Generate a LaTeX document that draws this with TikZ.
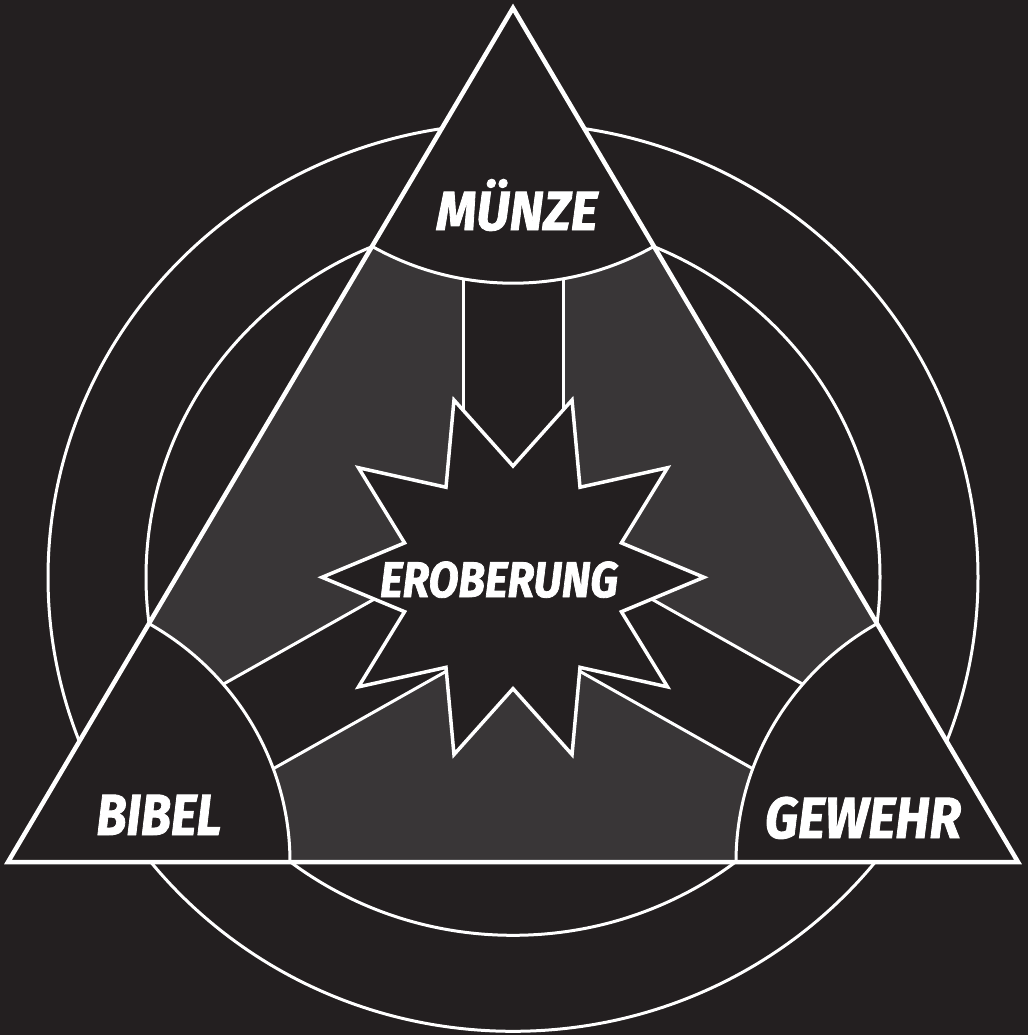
\documentclass[tikz,border=0pt]{standalone}
\usepackage{fontspec}
\setmainfont{Fira Sans}[BoldItalicFeatures={FakeBold=1.6}]
\usetikzlibrary{calc}
\definecolor{bgdark}{RGB}{35,31,32}
\definecolor{midgray}{RGB}{57,54,55}
\newcommand\fitw[2]{\resizebox{#1}{\height}{#2}}
\begin{document}
\begin{tikzpicture}[x=1pt,y=-1pt,
  wline/.style={draw=white,line width=3pt},
  darkfill/.style={fill=bgdark},
  lbl/.style={text=white,inner sep=0pt,anchor=base}]
\fill[bgdark] (0,0) rectangle (1028,1035);
\coordinate (A) at (513,8);
\coordinate (L) at (8,862);
\coordinate (R) at (1018,862);
\coordinate (O) at (513,577.3);
% outer and inner rings
\draw[wline] (O) ellipse [x radius=465pt, y radius=454pt];
\draw[wline] (O) ellipse [x radius=367pt, y radius=358pt];
% grey triangle body
\fill[midgray] (A) -- (L) -- (R) -- cycle;
% dark bands from centre to corners
\begin{scope}
  \clip (A) -- (L) -- (R) -- cycle;
  \foreach \d in {90,210,330}{
    \fill[darkfill] ($(O)+({\d+90}:50pt and 48.8pt)$) -- ++(\d:700pt and 683pt)
      -- ($(O)+({\d-90}:50pt and 48.8pt)+(\d:700pt and 683pt)$)
      -- ($(O)+({\d-90}:50pt and 48.8pt)$) -- cycle;
    \draw[wline] ($(O)+({\d+90}:50pt and 48.8pt)$) -- ++(\d:700pt and 683pt);
    \draw[wline] ($(O)+({\d-90}:50pt and 48.8pt)$) -- ++(\d:700pt and 683pt);
  }
\end{scope}
% corner caps
\fill[darkfill] (A) -- ++(240:282pt and 275.2pt) arc[start angle=240,end angle=300,x radius=282pt,y radius=275.2pt] -- cycle;
\fill[darkfill] (L) -- ++(0:282pt and 275.2pt) arc[start angle=0,end angle=60,x radius=282pt,y radius=275.2pt] -- cycle;
\fill[darkfill] (R) -- ++(120:282pt and 275.2pt) arc[start angle=120,end angle=180,x radius=282pt,y radius=275.2pt] -- cycle;
\draw[wline] (A) ++(240:282pt and 275.2pt) arc[start angle=240,end angle=300,x radius=282pt,y radius=275.2pt];
\draw[wline] (L) ++(0:282pt and 275.2pt) arc[start angle=0,end angle=60,x radius=282pt,y radius=275.2pt];
\draw[wline] (R) ++(120:282pt and 275.2pt) arc[start angle=120,end angle=180,x radius=282pt,y radius=275.2pt];
% triangle outline
\draw[white,line width=4.5pt,line join=miter] (A) -- (L) -- (R) -- cycle;
% star
\begin{scope}[shift={(O)}]
  \filldraw[darkfill,draw=white,line width=3.5pt,line join=miter]
    (0:191pt and 186.4pt)
    \foreach \k in {0,...,9}{ -- ({\k*36+18}:114pt and 111.3pt) -- ({\k*36+36}:191pt and 186.4pt)} -- cycle;
\end{scope}
% labels
\node[lbl,font={\fontsize{55}{55}\selectfont\bfseries\itshape}] (munze) at (517,230) {\fitw{161pt}{MÜNZE}};
\node[lbl,font={\fontsize{58}{58}\selectfont\bfseries\itshape}] (bibel) at (159,835) {\fitw{125pt}{BIBEL}};
\node[lbl,font={\fontsize{58}{58}\selectfont\bfseries\itshape}] (gewehr) at (863,838) {\fitw{196pt}{GEWEHR}};
\node[lbl,font={\fontsize{50}{50}\selectfont\bfseries\itshape}] (erob) at (499,597) {\fitw{238pt}{EROBERUNG}};
\end{tikzpicture}
\end{document}
